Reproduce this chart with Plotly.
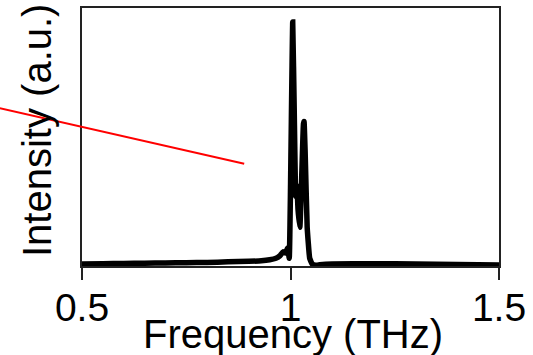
import plotly.graph_objects as go

# Spectrum data (frequency in THz, intensity in a.u. normalised)
freq = [0.50, 0.55, 0.60, 0.65, 0.70, 0.75, 0.80, 0.85, 0.90, 0.93, 0.95, 0.965,
        0.975, 0.982, 0.988, 0.993, 0.997, 1.000, 1.0053, 1.009, 1.0125, 1.0155,
        1.018, 1.0225, 1.026, 1.031, 1.0325, 1.035, 1.040, 1.046, 1.052, 1.060,
        1.07, 1.10, 1.20, 1.30, 1.40, 1.50]
intensity = [0.008, 0.009, 0.010, 0.011, 0.012, 0.013, 0.014, 0.016, 0.018, 0.020,
             0.024, 0.030, 0.040, 0.055, 0.050, 0.070, 0.030, 0.30, 0.946, 0.60,
             0.27, 0.31, 0.22, 0.15, 0.30, 0.55, 0.56, 0.45, 0.15, 0.03, 0.008,
             0.003, 0.005, 0.008, 0.009, 0.008, 0.006, 0.004]

x_ticks = [0.5, 1, 1.5]
x_tick_labels = ["0.5", "1", "1.5"]
x_title = "Frequency (THz)"
y_title = "Intensity (a.u.)"

# red pointer line endpoints (paper coordinates)
red_x = [-0.197, 0.389]
red_y = [0.612, 0.396]

FONT = "Liberation Sans, Arial, sans-serif"

fig = go.Figure()
fig.add_trace(go.Scatter(x=freq, y=intensity, mode="lines",
                         line=dict(color="black", width=5.5, shape="spline", smoothing=0.3),
                         showlegend=False, hoverinfo="skip"))

fig.update_layout(
    width=533, height=355,
    margin=dict(l=82, r=34, t=6, b=89),
    paper_bgcolor="white", plot_bgcolor="white",
    font=dict(family=FONT, color="black", size=39),
    xaxis=dict(range=[0.5, 1.5], tickvals=x_ticks, ticktext=x_tick_labels,
               ticks="outside", ticklen=12, tickwidth=1.5, tickcolor="#222",
               ticklabelstandoff=-6,
               showline=True, linecolor="#222", linewidth=1.5, mirror=True,
               showgrid=False, zeroline=False,
               tickfont=dict(family=FONT, size=39, color="black")),
    yaxis=dict(range=[0, 1], showticklabels=False, ticks="",
               showline=True, linecolor="#222", linewidth=1.5, mirror=True,
               showgrid=False, zeroline=False),
    shapes=[dict(type="line", xref="paper", yref="paper",
                 x0=red_x[0], y0=red_y[0], x1=red_x[1], y1=red_y[1],
                 line=dict(color="red", width=2), layer="above")],
    annotations=[
        dict(text=x_title, xref="paper", yref="paper", x=0.507, y=-0.262,
             xanchor="center", yanchor="middle", showarrow=False,
             font=dict(family=FONT, size=40, color="black")),
        dict(text=y_title, xref="paper", yref="paper", x=-0.108, y=0.527,
             xanchor="center", yanchor="middle", showarrow=False, textangle=-90,
             font=dict(family=FONT, size=40, color="black")),
    ],
)

fig.write_html("out.html")
